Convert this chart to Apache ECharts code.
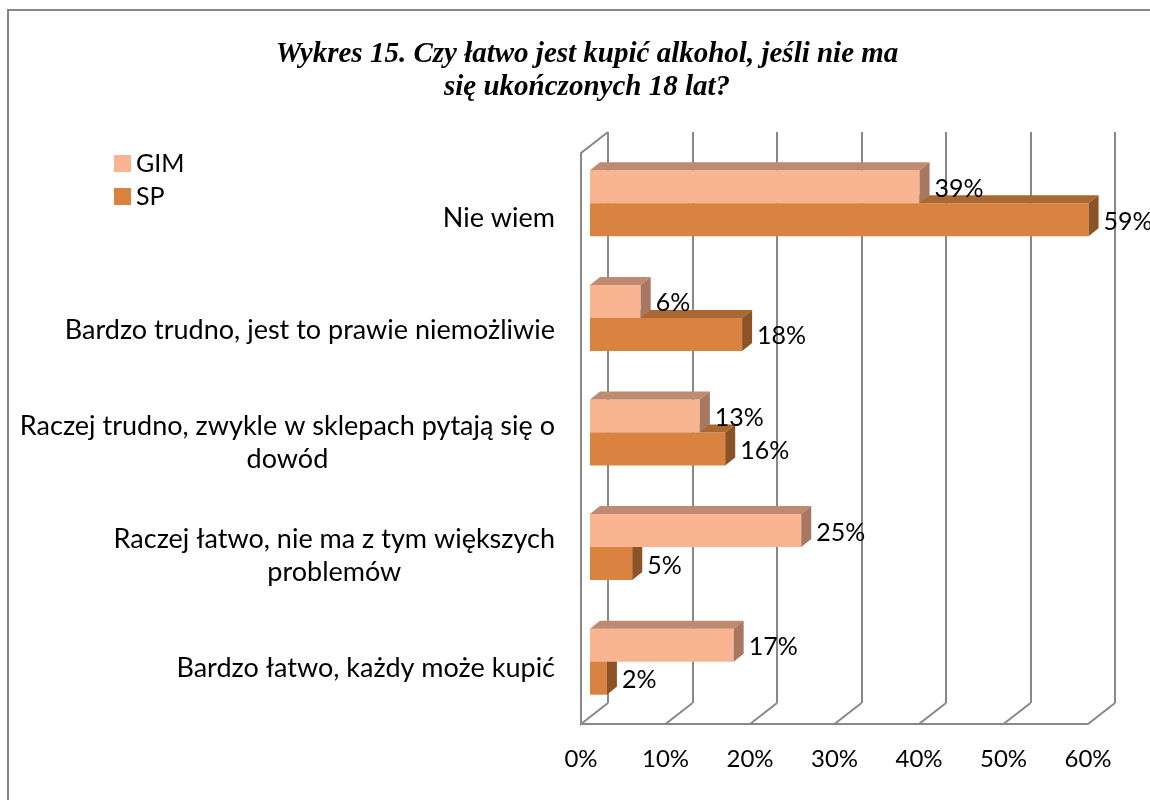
<!DOCTYPE html>
<html>
<head>
<meta charset="utf-8">
<script src="https://cdn.jsdelivr.net/npm/echarts@6/dist/echarts.min.js"></script>
<style>
  html, body { margin: 0; padding: 0; background: #fff; }
  #chart { width: 1150px; height: 800px; }
</style>
</head>
<body>
<div id="chart"></div>
<script>
// dane (procenty)
var categories = [
  'Nie wiem',
  'Bardzo trudno, jest to prawie niemożliwie',
  'Raczej trudno, zwykle w sklepach pytają się o\ndowód',
  'Raczej łatwo, nie ma z tym większych\nproblemów',
  'Bardzo łatwo, każdy może kupić'
];
var gimValues = [39, 6, 13, 25, 17];
var spValues = [59, 18, 16, 5, 2];
var xTicks = [0, 10, 20, 30, 40, 50, 60];
var seriesNames = ['GIM', 'SP'];

var FONT = 'Lato';
var DEPTH = [27, -21];     // przesunięcie tylnej ściany
var BAR_DEPTH = [10, -8];  // głębokość słupka
var BAR_H = 33;
var GRID_COLOR = '#888888';

var gimColors = { front: '#F9B592', top: '#BE8A70', side: '#A67860' };
var spColors = { front: '#DA823F', top: '#A96831', side: '#8C5426' };

var measureCtx = document.createElement('canvas').getContext('2d');
measureCtx.font = '27px ' + FONT;

function barRenderer(colors, below) {
  return function (params, api) {
    var v = api.value(0), c = api.value(1);
    var p0 = api.coord([0, c]);
    var p1 = api.coord([v, c]);
    var x0 = p0[0], x1 = p1[0];
    var y0 = below ? p0[1] : p0[1] - BAR_H;
    var dx = BAR_DEPTH[0], dy = BAR_DEPTH[1];
    return {
      type: 'group',
      children: [
        { type: 'rect', shape: { x: x0, y: y0, width: x1 - x0, height: BAR_H }, style: { fill: colors.front } },
        { type: 'polygon', shape: { points: [[x0, y0], [x0 + dx, y0 + dy], [x1 + dx, y0 + dy], [x1, y0]] }, style: { fill: colors.top } },
        { type: 'polygon', shape: { points: [[x1, y0], [x1 + dx, y0 + dy], [x1 + dx, y0 + dy + BAR_H], [x1, y0 + BAR_H]] }, style: { fill: colors.side } },
        { type: 'text', x: x1 + dx + 5, y: y0 + BAR_H / 2 + 2,
          style: { text: v + '%', fontFamily: FONT, fontSize: 25, fill: '#000', verticalAlign: 'middle', align: 'left' } }
      ]
    };
  };
}

var chart = echarts.init(document.getElementById('chart'), null, { renderer: 'canvas' });

chart.setOption({
  animation: false,
  backgroundColor: '#fff',
  title: {
    text: 'Wykres 15. Czy łatwo jest kupić alkohol, jeśli nie ma\nsię ukończonych 18 lat?',
    left: 582,
    textAlign: 'center',
    top: 33,
    textStyle: {
      fontFamily: 'Liberation Serif',
      fontStyle: 'italic',
      fontWeight: 'bold',
      fontSize: 29,
      lineHeight: 33,
      color: '#000'
    }
  },
  legend: {
    data: seriesNames,
    orient: 'vertical',
    left: 109,
    top: 146,
    icon: 'rect',
    itemWidth: 17,
    itemHeight: 17,
    itemGap: 8,
    textStyle: { fontFamily: FONT, fontSize: 25, color: '#000' }
  },
  graphic: [{
    type: 'polyline',
    shape: { points: [[8, 800], [8, 10], [1150, 10]] },
    style: { stroke: '#868686', lineWidth: 2, fill: null }
  }],
  grid: [
    { left: 581, right: 62, top: 162, bottom: 76 },   // przednia płaszczyzna
    { left: 608, right: 35, top: 132, bottom: 97 },   // tylna ściana
    { left: 590, right: 53, top: 146, bottom: 81 }    // słupki
  ],
  xAxis: [
    { gridIndex: 0, type: 'value', min: 0, max: 60, interval: 10,
      axisLine: { show: true, lineStyle: { color: GRID_COLOR, width: 2 } },
      axisTick: { show: false }, splitLine: { show: false },
      axisLabel: { formatter: '{value}%', margin: 23, fontFamily: FONT, fontSize: 24, color: '#000' } },
    { gridIndex: 1, type: 'value', min: 0, max: 60, interval: 10,
      axisLine: { show: false }, axisTick: { show: false }, axisLabel: { show: false },
      splitLine: { show: true, lineStyle: { color: GRID_COLOR, width: 2 } } },
    { gridIndex: 2, type: 'value', min: 0, max: 60, interval: 10, show: false, splitLine: { show: false } }
  ],
  yAxis: [
    { gridIndex: 0, type: 'category', data: categories, inverse: true, show: false },
    { gridIndex: 1, type: 'category', data: categories, inverse: true, show: false },
    { gridIndex: 2, type: 'category', data: categories, inverse: true, show: false }
  ],
  series: [
    {
      // podłoga i lewa ściana
      type: 'custom', name: 'floor', xAxisIndex: 0, yAxisIndex: 0, silent: true, z: 1,
      data: xTicks.map(function (t) { return [t, 0]; }),
      renderItem: function (params, api) {
        var v = api.value(0);
        var x = api.coord([v, 0])[0];
        var yb = params.coordSys.y + params.coordSys.height;
        var pts = [[x, yb], [x + DEPTH[0], yb + DEPTH[1]]];
        if (v === 0) {
          var yt = 132 - DEPTH[1];
          pts = [[x + DEPTH[0], 132], [x, yt], [x, yb], [x + DEPTH[0], yb + DEPTH[1]]];
        }
        return { type: 'polyline', shape: { points: pts }, style: { stroke: GRID_COLOR, lineWidth: 2, fill: null } };
      }
    },
    {
      // etykiety kategorii
      type: 'custom', name: 'labels', xAxisIndex: 0, yAxisIndex: 0, silent: true,
      data: categories.map(function (c, i) { return [0, i]; }),
      renderItem: function (params, api) {
        var idx = api.value(1);
        var y = api.coord([0, idx])[1];
        var lines = categories[idx].split('\n');
        var w = 0;
        lines.forEach(function (l) { w = Math.max(w, measureCtx.measureText(l).width); });
        return { type: 'text', x: 555 - w / 2, y: y,
          style: { text: categories[idx], fontFamily: FONT, fontSize: 27, lineHeight: 33, fill: '#000', align: 'center', verticalAlign: 'middle' } };
      }
    },
    {
      type: 'custom', name: 'SP', xAxisIndex: 2, yAxisIndex: 2, z: 3,
      itemStyle: { color: spColors.front },
      data: spValues.map(function (v, i) { return [v, i]; }),
      renderItem: barRenderer(spColors, true)
    },
    {
      type: 'custom', name: 'GIM', xAxisIndex: 2, yAxisIndex: 2, z: 4,
      itemStyle: { color: gimColors.front },
      data: gimValues.map(function (v, i) { return [v, i]; }),
      renderItem: barRenderer(gimColors, false)
    }
  ]
});
</script>
</body>
</html>
